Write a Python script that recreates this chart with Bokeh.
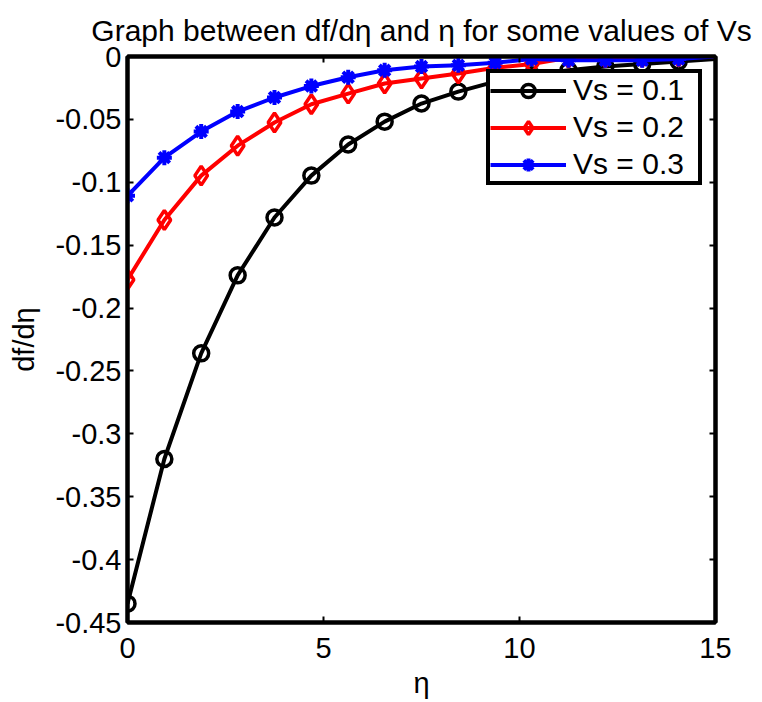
from bokeh.plotting import figure
from bokeh.models import LinearAxis, FixedTicker, Legend, LegendItem, Range1d
from bokeh.embed import file_html
from bokeh.resources import INLINE

# ---- data ----
eta = [0, 0.94, 1.88, 2.81, 3.75, 4.69, 5.63, 6.56, 7.5, 8.44,
       9.38, 10.31, 11.25, 12.19, 13.13, 14.06, 15]
vs01 = [-0.435, -0.320, -0.236, -0.174, -0.128, -0.0947, -0.070, -0.0518, -0.0374, -0.0279,
        -0.020, -0.015, -0.011, -0.008, -0.006, -0.004, -0.002]
vs02 = [-0.1775, -0.130, -0.0947, -0.0709, -0.0525, -0.038, -0.0295, -0.0215, -0.0175, -0.0135,
        -0.009, -0.006, -0.001, -0.0008, -0.0005, 0.0, 0.0]
vs03 = [-0.1107, -0.0804, -0.0597, -0.0438, -0.0326, -0.0235, -0.0165, -0.011, -0.008, -0.007,
        -0.005, -0.002, -0.003, -0.003, -0.003, -0.002, 0.0]
n_markers = 16  # markers on the first 16 samples; the line runs on to eta = 15

series_labels = ["Vs = 0.1", "Vs = 0.2", "Vs = 0.3"]
x_min, x_max = 0, 15
y_min, y_max = -0.45, 0
x_ticks = [0, 5, 10, 15]
x_tick_labels = ["0", "5", "10", "15"]
y_ticks = [0, -0.05, -0.1, -0.15, -0.2, -0.25, -0.3, -0.35, -0.4, -0.45]
y_tick_labels = ["0", "-0.05", "-0.1", "-0.15", "-0.2", "-0.25", "-0.3", "-0.35", "-0.4", "-0.45"]
title_text = "Graph between df/d\u03b7 and \u03b7 for some values of Vs"
x_label = "\u03b7"
y_label = "df/d\u03b7"

FONT = "Liberation Sans"
FS = "29px"

p = figure(width=762, height=702, output_backend="svg", toolbar_location=None,
           x_range=Range1d(x_min, x_max), y_range=Range1d(y_min, y_max),
           min_border_left=127, min_border_right=47, min_border_top=56, min_border_bottom=80,
           background_fill_color="white", border_fill_color="white")
p.grid.visible = False
p.outline_line_color = "black"
p.outline_line_width = 4

p.title.text = title_text
p.title.align = "center"
p.title.vertical_align = "bottom"
p.title.text_font = FONT
p.title.text_font_size = "30px"
p.title.text_font_style = "normal"
p.title.text_color = "black"
p.title.standoff = 20


def style_axis(ax, ticks, labels, show_labels=True):
    ax.ticker = FixedTicker(ticks=ticks)
    ax.major_label_overrides = {t: (l if show_labels else "") for t, l in zip(ticks, labels)}
    ax.axis_line_width = 4
    ax.axis_line_color = "black"
    ax.major_tick_in = 6
    ax.major_tick_out = 0
    ax.major_tick_line_width = 2
    ax.major_tick_line_color = "black"
    ax.minor_tick_line_color = None
    ax.major_label_text_font = FONT
    ax.major_label_text_font_size = FS if show_labels else "0px"
    ax.major_label_text_color = "black"
    ax.axis_label_text_font = FONT
    ax.axis_label_text_font_size = FS
    ax.axis_label_text_font_style = "normal"
    ax.axis_label_text_color = "black"


style_axis(p.xaxis[0], x_ticks, x_tick_labels)
style_axis(p.yaxis[0], y_ticks, y_tick_labels)
p.xaxis[0].axis_label = x_label
p.yaxis[0].axis_label = y_label
p.xaxis[0].major_label_standoff = 15
p.yaxis[0].major_label_standoff = 6
p.xaxis[0].axis_label_standoff = 6
p.yaxis[0].axis_label_standoff = 12

ax_r = LinearAxis()
style_axis(ax_r, y_ticks, y_tick_labels, show_labels=False)
p.add_layout(ax_r, "right")
ax_t = LinearAxis()
style_axis(ax_t, x_ticks, x_tick_labels, show_labels=False)
p.add_layout(ax_t, "above")

items = []
# Vs = 0.1 : black, open circles
l1 = p.line(eta, vs01, line_color="black", line_width=4)
m1 = p.scatter(eta[:n_markers], vs01[:n_markers], marker="circle", size=15,
               line_color="black", line_width=3.5, fill_color=None)
items.append(LegendItem(label=series_labels[0], renderers=[l1, m1]))
# Vs = 0.2 : red, open diamonds
l2 = p.line(eta, vs02, line_color="red", line_width=4)
m2 = p.scatter(eta[:n_markers], vs02[:n_markers], marker="diamond", size=19,
               line_color="red", line_width=3.5, fill_color=None)
items.append(LegendItem(label=series_labels[1], renderers=[l2, m2]))
# Vs = 0.3 : blue, asterisks
l3 = p.line(eta, vs03, line_color="blue", line_width=4)
m3 = p.scatter(eta[:n_markers], vs03[:n_markers], marker="asterisk", size=15,
               line_color="blue", line_width=4)
items.append(LegendItem(label=series_labels[2], renderers=[l3, m3]))

legend = Legend(items=items, location="top_right", margin=13,
                border_line_color="black", border_line_width=4, border_line_alpha=1.0,
                background_fill_color="white", background_fill_alpha=1.0,
                label_text_font=FONT, label_text_font_size="30px",
                label_text_color="black",
                glyph_width=76, glyph_height=33, label_height=33, label_width=125,
                label_standoff=7, spacing=3, padding=0)
p.add_layout(legend, "center")

open("out.html", "w").write(file_html(p, INLINE))
